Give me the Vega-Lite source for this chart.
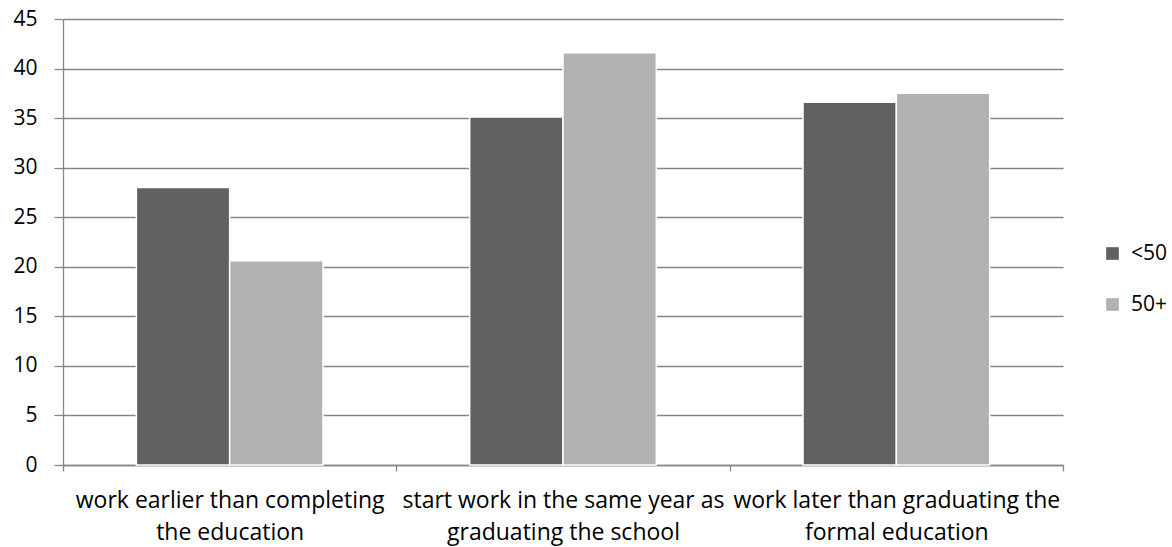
{
  "$schema": "https://vega.github.io/schema/vega-lite/v6.json",
  "width": 1000,
  "height": 446,
  "autosize": "none",
  "padding": {"left": 63, "top": 19, "right": 109, "bottom": 82},
  "background": "white",
  "config": {
    "font": "Open Sans",
    "view": {"stroke": null},
    "axis": {"labelFont": "Open Sans", "labelColor": "#000000", "labelFontSize": 20, "domainColor": "#868686", "tickColor": "#868686", "gridColor": "#868686", "domainWidth": 1.3, "tickWidth": 1.3, "gridWidth": 1.3, "gridOpacity": 1, "domainOpacity": 1, "tickOpacity": 1}
  },
  "data": {
    "values": [
      {"category": "work earlier than completing|the education", "group": "<50", "value": 28.0},
      {"category": "work earlier than completing|the education", "group": "50+", "value": 20.6},
      {"category": "start work in the same year as|graduating the school", "group": "<50", "value": 35.1},
      {"category": "start work in the same year as|graduating the school", "group": "50+", "value": 41.6},
      {"category": "work later than graduating the|formal education", "group": "<50", "value": 36.6},
      {"category": "work later than graduating the|formal education", "group": "50+", "value": 37.5}
    ]
  },
  "mark": {"type": "bar", "stroke": "white", "strokeWidth": 1.5},
  "encoding": {
    "x": {
      "field": "category", "type": "nominal", "sort": null,
      "scale": {"paddingInner": 0, "paddingOuter": 0},
      "axis": {"title": null, "labelAngle": 0, "tickBand": "extent", "tickSize": 6, "labelPadding": 18, "labelExpr": "datum.value ? split(datum.value, '|') : ''", "labelLineHeight": 32, "labelBaseline": "top", "labelLimit": 0, "labelFontSize": 23, "labelFont": "Open Sans", "labelColor": "#000000", "labelOverlap": false}
    },
    "xOffset": {"field": "group", "type": "nominal", "sort": ["<50", "50+"], "scale": {"domain": ["<50", "50+"], "paddingInner": 0, "paddingOuter": 0.786}},
    "y": {
      "field": "value", "type": "quantitative",
      "scale": {"domain": [0, 45], "nice": false},
      "axis": {"title": null, "values": [0,5,10,15,20,25,30,35,40,45], "tickSize": 9, "labelPadding": 17, "grid": true, "domain": true, "labelFontSize": 21, "labelFont": "Open Sans", "labelColor": "#000000"}
    },
    "color": {
      "field": "group", "type": "nominal",
      "scale": {"domain": ["<50", "50+"], "range": ["#616161", "#b2b2b2"]},
      "legend": {"title": null, "orient": "none", "legendX": 1039, "legendY": 224, "symbolType": "square", "symbolSize": 160, "symbolStrokeWidth": 0, "symbolOpacity": 1, "labelFontSize": 21, "labelFont": "Open Sans", "labelColor": "#000000", "rowPadding": 29, "labelOffset": 8}
    }
  }
}
